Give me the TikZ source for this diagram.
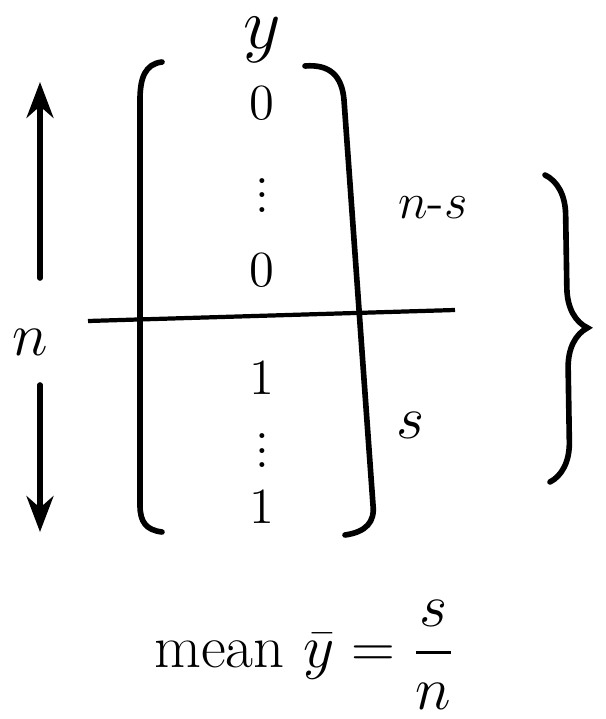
\documentclass[tikz,border=0pt]{standalone}
\usepackage{amsmath}
\usetikzlibrary{positioning, arrows.meta, decorations.pathreplacing}
\tikzset{
  >=Stealth,
  ink/.style={line width=1.6pt, black, line cap=round},
  entry/.style={font=\Large, inner sep=1pt},
  sidelabel/.style={font=\LARGE, inner sep=1pt}
}
\begin{document}
\begin{tikzpicture}[x=1cm, y=-1cm]
    \useasboundingbox (0,0) rectangle (6.05,7.19);

    % vector y and its entries
    \node[font=\huge, inner sep=1pt] (ylab) at (2.62,0.40) {$y$};
    \node[entry] (e1) at (2.62,1.03) {$0$};
    \node[entry] (e2) at (2.62,1.85) {$\vdots$};
    \node[entry] (e3) at (2.62,2.70) {$0$};
    \node[entry] (e4) at (2.62,3.78) {$1$};
    \node[entry] (e5) at (2.62,4.40) {$\vdots$};
    \node[entry] (e6) at (2.62,5.07) {$1$};

    % brackets
    \draw[ink] (1.62,0.62) .. controls (1.45,0.64) and (1.40,0.78) .. (1.40,1.00)
        -- (1.40,5.05) .. controls (1.40,5.22) and (1.46,5.30) .. (1.62,5.32);
    \draw[ink] (3.05,0.66) .. controls (3.30,0.64) and (3.42,0.76) .. (3.44,1.00)
        -- (3.73,5.05) .. controls (3.75,5.22) and (3.66,5.32) .. (3.45,5.35);

    % split line
    \coordinate (divl) at (0.88,3.21);
    \coordinate (divr) at (4.55,3.10);
    \draw[line width=1.2pt] (divl) -- (divr);

    % length n
    \node[sidelabel] (nlab) at (0.30,3.42) {$n$};
    \coordinate (ntop) at (0.40,0.82);
    \coordinate (nbot) at (0.40,5.32);
    \draw[ink, ->] (0.40,2.78) -- (ntop);
    \draw[ink, ->] (0.40,3.85) -- (nbot);

    % counts
    \node[sidelabel, font=\Large] (nslab) at (4.33,2.08) {$n\text{-}s$};
    \node[sidelabel] (slab) at (4.10,4.25) {$s$};
    \coordinate (brtop) at (5.45,1.75);
    \coordinate (brbot) at (5.50,4.82);
    \draw[ink, decorate, decoration={brace, amplitude=0.4cm}] (brtop) -- (brbot);

    % mean
    \node[font=\LARGE] (mean) at (3.05,6.55) {mean $\bar{y} = \dfrac{s}{n}$};
\end{tikzpicture}
\end{document}
